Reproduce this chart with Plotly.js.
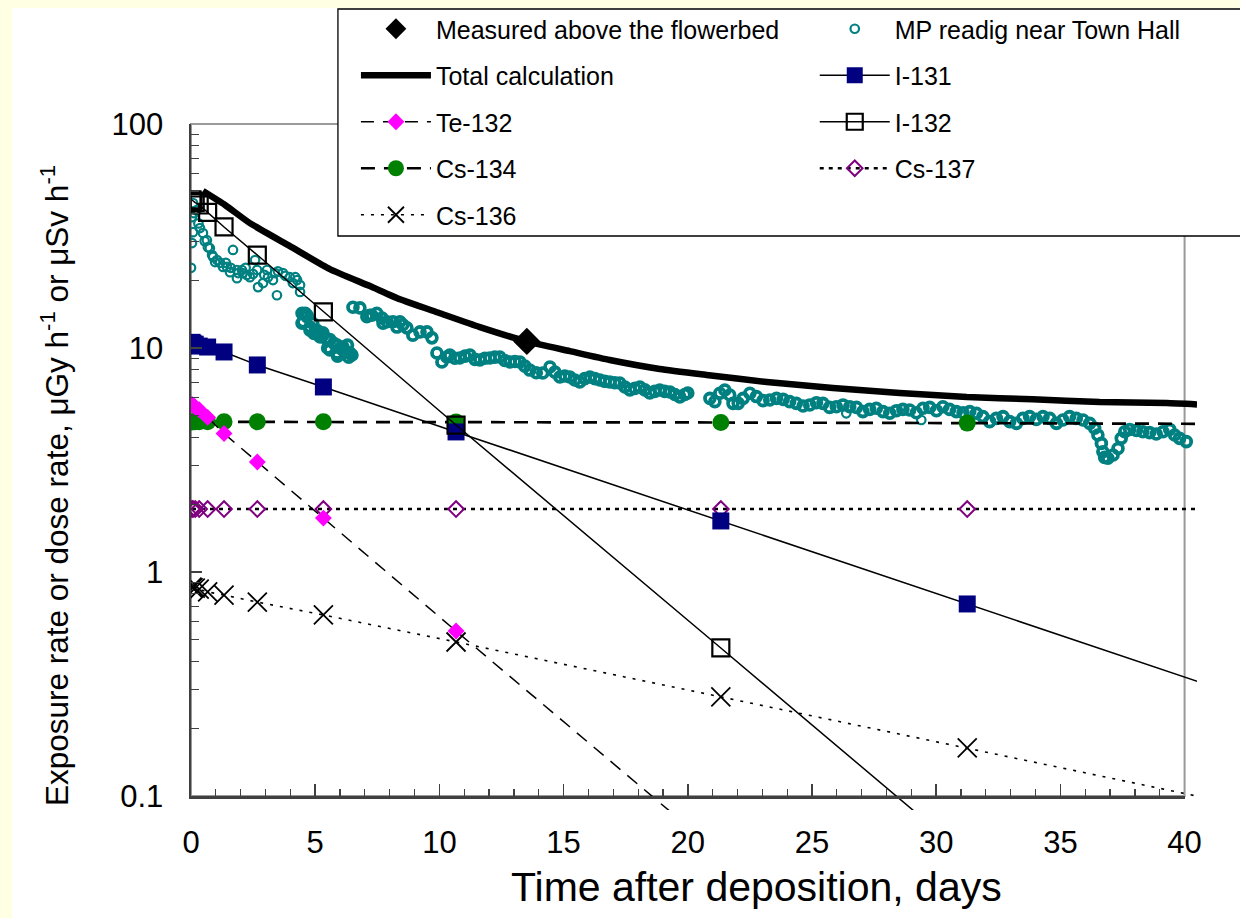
<!DOCTYPE html>
<html><head><meta charset="utf-8">
<script src="https://cdn.plot.ly/plotly-3.0.1.min.js"></script>
<style>
html,body{margin:0;padding:0;background:#FFFFE3;width:1240px;height:918px;overflow:hidden;}
#chart{position:absolute;left:12px;top:8px;width:1228px;height:910px;background:#ffffff;}
</style></head><body><div id="chart"></div>
<script>
// ---- data (days after deposition, dose rate) ----
const tCalc = [0.04, 0.08, 0.17, 0.33, 0.67, 1.33, 2.67, 5.33, 10.67, 21.33, 31.25, 42.67];
const i131  = [10.6, 10.5, 10.4, 10.2, 10.1, 9.6, 8.4, 6.7, 4.22, 1.69, 0.72, 0.27];
const i132  = [45.8, 45.3, 44.6, 43.5, 40.3, 34.7, 26.0, 14.5, 4.53, 0.458, 0.054, null];
const te132 = [5.6, 5.55, 5.45, 5.3, 4.9, 4.15, 3.1, 1.74, 0.545, 0.055, null, null];
const cs134 = [4.68, 4.68, 4.68, 4.68, 4.68, 4.68, 4.68, 4.68, 4.67, 4.65, 4.62, 4.58];
const cs137 = [1.91, 1.91, 1.91, 1.91, 1.91, 1.91, 1.91, 1.91, 1.91, 1.91, 1.91, 1.91];
const cs136 = [0.855, 0.852, 0.848, 0.838, 0.815, 0.789, 0.734, 0.643, 0.487, 0.277, 0.164, 0.089];

const tTotal = [0.48, 1.37, 2.37, 3.98, 5.59, 7.20, 8.41, 10.02, 11.63, 13.52, 15.25, 16.86, 18.87, 20.76, 23.18, 25.84, 28.53, 31.23, 33.88, 36.58, 39.28, 40.5];
const total  = [50.2, 43.5, 36.1, 28.5, 22.5, 18.9, 16.5, 14.3, 12.4, 10.7, 9.69, 8.84, 8.06, 7.58, 7.05, 6.63, 6.30, 6.04, 5.90, 5.74, 5.68, 5.60];

const tMeasured = [13.52];
const measured  = [10.7];

const mpDay = [
 0.08,0.04,0.24,0.08,0.04,0.00,0.12,0.30,0.36,0.48,0.55,0.64,0.68,0.76,0.85,0.89,0.97,1.05,1.17,1.29,1.40,1.45,1.57,1.60,1.69,1.85,1.90,1.85,2.05,2.09,2.20,2.25,2.37,2.50,2.58,2.66,2.70,2.90,2.95,3.06,3.10,3.30,3.38,3.46,3.50,3.70,3.80,3.98,4.10,4.20,4.27,4.39,4.39,
 4.47,4.51,4.47,4.60,4.67,4.67,4.79,4.79,4.90,4.95,5.07,5.07,5.20,5.31,5.31,5.45,5.50,5.59,5.59,5.75,5.88,5.88,5.90,6.00,6.12,6.12,6.25,6.30,6.35,6.40,6.48,
 6.52,6.80,7.08,7.20,7.28,7.48,7.69,7.73,7.89,8.13,8.29,8.41,8.53,8.69,8.93,9.22,9.50,9.70,9.90,10.10,10.30,10.42,10.62,10.82,11.03,11.23,11.43,11.63,11.83,12.03,12.23,12.43,12.63,12.84,13.04,13.24,13.44,13.64,13.90,14.16,14.45,14.65,14.85,15.05,15.25,15.45,15.65,15.85,16.06,16.26,16.46,16.66,16.86,17.06,17.26,17.47,17.67,17.87,18.07,18.27,18.47,18.67,18.87,19.07,19.28,19.48,19.68,19.88,20.00,
 20.89,21.09,21.29,21.49,21.69,21.82,22.03,22.23,22.50,22.76,23.03,23.30,23.57,23.84,24.10,24.37,24.64,24.91,25.18,25.44,25.71,25.98,26.25,26.52,26.79,27.05,27.32,27.59,27.86,28.13,28.40,28.66,28.93,29.20,29.47,29.74,30.01,30.27,30.54,30.81,31.08,31.35,31.62,31.88,32.15,32.42,32.69,32.96,33.23,33.49,33.76,34.03,34.30,34.57,34.84,35.10,35.37,35.64,35.91,36.18,36.38,36.51,36.65,36.71,36.78,36.91,37.12,37.32,37.45,37.59,37.79,38.06,38.32,38.59,38.86,39.13,39.40,39.60,39.80,40.07,
 26.38,29.40
];
const mpVal = [
 44.4,38.4,41.3,32.9,29.4,22.8,40.0,36.0,34.3,32.6,30.0,30.3,28.2,27.9,26.0,25.5,24.2,24.7,24.0,23.0,24.0,23.0,21.8,22.8,27.4,20.5,21.6,22.3,22.3,21.6,22.8,21.2,20.7,21.4,24.7,22.3,18.7,19.5,21.2,22.3,20.7,20.1,21.6,17.2,22.0,21.6,21.0,20.7,19.5,20.7,20.1,19.1,17.8,
 12.9,13.1,14.3,14.3,13.8,14.0,12.0,12.4,12.9,11.6,12.0,11.7,11.2,11.4,11.7,11.0,10.0,10.9,9.8,10.5,10.3,9.5,9.2,10.0,10.1,9.8,9.6,10.3,9.1,9.5,9.3,
 15.2,15.1,13.8,14.0,14.0,14.3,13.6,12.9,13.1,13.1,12.4,13.1,12.7,12.3,11.4,11.8,11.8,11.1,9.5,8.66,9.12,9.30,9.0,9.03,9.2,9.30,8.9,8.84,9.0,9.03,9.1,9.12,8.8,8.66,8.7,8.66,8.3,7.97,7.75,7.73,8.23,7.8,7.42,7.5,7.42,7.2,7.05,7.3,7.42,7.3,7.20,7.1,7.05,7.0,6.98,6.7,6.49,6.6,6.70,6.5,6.30,6.4,6.49,6.4,6.36,6.2,6.04,6.2,6.30,
 5.96,5.76,6.28,6.49,6.17,5.66,5.66,5.96,6.28,6.07,5.82,5.86,5.96,5.90,5.76,5.66,5.51,5.57,5.70,5.66,5.43,5.47,5.57,5.47,5.43,5.20,5.32,5.38,5.20,5.11,5.25,5.32,5.29,5.14,5.38,5.43,5.25,5.47,5.32,5.20,5.14,5.20,5.11,4.94,4.69,4.85,4.94,4.69,4.61,4.85,4.94,4.80,4.94,4.85,4.61,4.77,4.94,4.85,4.77,4.61,4.38,4.09,3.75,3.44,3.25,3.22,3.33,3.56,3.95,4.23,4.33,4.28,4.23,4.19,4.13,4.23,4.33,4.09,3.95,3.82,
 5.11,4.77
];

const xTicks = [0, 5, 10, 15, 20, 25, 30, 35, 40];
const xMinorTicks = [1,2,3,4,6,7,8,9,11,12,13,14,16,17,18,19,21,22,23,24,26,27,28,29,31,32,33,34,36,37,38,39];
const yTicks = [0.1, 1, 10, 100];
const yTickText = ['0.1', '1', '10', '100'];
const yMinorTicks = [0.2,0.3,0.4,0.5,0.6,0.7,0.8,0.9,2,3,4,5,6,7,8,9,20,30,40,50,60,70,80,90];

// ---- layout geometry ----
const FONT = 'Liberation Sans, Arial, Helvetica, sans-serif';
const W = 1228, H = 910;
const L = 179, R = 42.6, T = 116, B = 108;
const pw = W - L - R, ph = H - T - B;
const xMaxData = 40.5, yLogMin = -1.0625, yLogMax = 2;
const px = v => (v - L) / pw;            // div px -> paper x
const py = v => 1 - (v - T) / ph;        // div px -> paper y
const xDispFrac = 40 / xMaxData;
const yDispLo = (-1 - yLogMin) / (yLogMax - yLogMin);

// dense (continuous-logging) part of the MP readings: drawn again with heavier rings
const denseFrom = 4.45;
const denseIdx = mpDay.map((d, i) => i).filter(i => mpDay[i] >= denseFrom && i < mpDay.length - 2);
const mpDenseDay = denseIdx.map(i => mpDay[i]);
const mpDenseVal = denseIdx.map(i => mpVal[i]);

function series(name, x, y, opt, legend, rank) {
  return Object.assign({type: 'scatter', name: name, x: x, y: y, xaxis: 'x', yaxis: 'y',
    legend: legend, legendrank: rank, legendgroup: name, hoverinfo: 'skip'}, opt);
}

const teal = '#008080';
const traces = [
  // empty trace that only registers the frame/tick subplot (x2, y2)
  {type: 'scatter', x: [], y: [], xaxis: 'x2', yaxis: 'y2', showlegend: false, hoverinfo: 'skip', mode: 'markers'},
  series('MP readig near Town Hall', mpDay, mpVal,
    {mode: 'markers', marker: {symbol: 'circle-open', size: 8.5, color: teal, line: {width: 2.2, color: teal}}}, 'legend2', 1),
  {type: 'scatter', x: mpDenseDay, y: mpDenseVal, xaxis: 'x', yaxis: 'y', showlegend: false, hoverinfo: 'skip',
   legendgroup: 'MP readig near Town Hall', mode: 'markers',
   marker: {symbol: 'circle-open', size: 10, color: teal, line: {width: 3.6, color: teal}}},
  series('Cs-137', tCalc, cs137,
    {mode: 'lines+markers', line: {color: '#000', width: 2.5, dash: '4px,5px'},
     marker: {symbol: 'diamond-open', size: 12, color: '#800080', line: {width: 2, color: '#800080'}}}, 'legend2', 4),
  series('Cs-134', tCalc, cs134,
    {mode: 'lines+markers', line: {color: '#000', width: 2.7, dash: '14px,9px'},
     marker: {symbol: 'circle', size: 17, color: '#008000'}}, 'legend', 4),
  series('Te-132', tCalc, te132,
    {mode: 'lines+markers', line: {color: '#000', width: 1.5, dash: '13px,9px'},
     marker: {symbol: 'diamond', size: 13, color: '#FF00FF'}}, 'legend', 3),
  series('Cs-136', tCalc, cs136,
    {mode: 'lines+markers', line: {color: '#000', width: 1.6, dash: '3px,7px'},
     marker: {symbol: 'x-thin-open', size: 19, color: '#000', line: {width: 1.8, color: '#000'}}}, 'legend', 5),
  series('I-131', tCalc, i131,
    {mode: 'lines+markers', line: {color: '#000', width: 1.5},
     marker: {symbol: 'square', size: 17, color: '#000080'}}, 'legend2', 2),
  series('I-132', tCalc, i132,
    {mode: 'lines+markers', line: {color: '#000', width: 1.5},
     marker: {symbol: 'square-open', size: 17, color: '#000', line: {width: 2.2, color: '#000'}}}, 'legend2', 3),
  series('Total calculation', tTotal, total,
    {mode: 'lines', line: {color: '#000', width: 6.5, shape: 'spline', smoothing: 0.5}}, 'legend', 2),
  series('Measured above the flowerbed', tMeasured, measured,
    {mode: 'markers', marker: {symbol: 'diamond', size: 21, color: '#000'}}, 'legend', 1)
];

const axColor = '#404040';
const legendCommon = {
  orientation: 'v', bgcolor: 'rgba(0,0,0,0)', borderwidth: 0, itemwidth: 70,
  font: {family: FONT, size: 25, color: '#000'}, tracegroupgap: 11,
  xanchor: 'left', yanchor: 'top', itemclick: false, itemdoubleclick: false
};

const layout = {
  width: W, height: H,
  margin: {l: L, r: R, t: T, b: B, pad: 0, autoexpand: false},
  paper_bgcolor: '#ffffff', plot_bgcolor: 'rgba(0,0,0,0)',
  font: {family: FONT, color: '#000'},
  showlegend: true,
  xaxis: {domain: [0, 1], range: [0, xMaxData], visible: false, anchor: 'y', fixedrange: true},
  yaxis: {domain: [0, 1], type: 'log', range: [yLogMin, yLogMax], visible: false, anchor: 'x', fixedrange: true},
  xaxis2: {domain: [0, xDispFrac], anchor: 'y2', range: [0, 40], autorange: false, tickmode: 'array', tickvals: xTicks,
    ticks: 'inside', ticklen: 12, tickwidth: 1.5, tickcolor: axColor,
    showline: true, linecolor: axColor, linewidth: 2.5, showgrid: false, zeroline: false, showticklabels: true,
    tickfont: {family: FONT, size: 31, color: '#000'}, ticklabelstandoff: 17,
    minor: {tickmode: 'array', tickvals: xMinorTicks, ticks: 'inside', ticklen: 7, tickwidth: 1.2, tickcolor: axColor, showgrid: false},
    fixedrange: true},
  yaxis2: {domain: [yDispLo, 1], anchor: 'x2', type: 'log', range: [-1, 2], autorange: false, tickmode: 'array',
    tickvals: yTicks, ticktext: yTickText,
    ticks: 'inside', ticklen: 11, tickwidth: 1.5, tickcolor: axColor,
    showline: true, linecolor: axColor, linewidth: 2.5, showgrid: false, zeroline: false, showticklabels: true,
    tickfont: {family: FONT, size: 31, color: '#000'}, ticklabelstandoff: 19,
    minor: {tickmode: 'array', tickvals: yMinorTicks, ticks: 'inside', ticklen: 8, tickwidth: 1.2, tickcolor: axColor, showgrid: false},
    fixedrange: true},
  legend: Object.assign({}, legendCommon, {x: px(344), y: py(-2)}),
  legend2: Object.assign({}, legendCommon, {x: px(803), y: py(-2)}),
  shapes: [
    {type: 'rect', xref: 'paper', yref: 'paper', x0: 0, x1: xDispFrac, y0: yDispLo, y1: 1,
     line: {color: '#9a9a9a', width: 2}, fillcolor: 'rgba(0,0,0,0)', layer: 'below'},
    {type: 'rect', xref: 'paper', yref: 'paper', x0: px(326), x1: px(1260), y0: py(228), y1: py(1),
     line: {color: '#000', width: 1.3}, fillcolor: '#ffffff', layer: 'above'}
  ],
  annotations: [
    {xref: 'paper', yref: 'paper', x: px(43), y: py(478), xanchor: 'center', yanchor: 'middle',
     textangle: -90, showarrow: false,
     text: 'Exposure rate or dose rate, \u03bcGy h<sup>-1</sup> or \u03bcSv h<sup>-1</sup>',
     font: {family: FONT, size: 31.5, color: '#000'}},
    {xref: 'paper', yref: 'paper', x: px(745), y: py(879), xanchor: 'center', yanchor: 'middle',
     showarrow: false, text: 'Time after deposition, days',
     font: {family: FONT, size: 41, color: '#000'}}
  ]
};

Plotly.newPlot('chart', traces, layout, {displayModeBar: false, staticPlot: true});
</script>
</body></html>
